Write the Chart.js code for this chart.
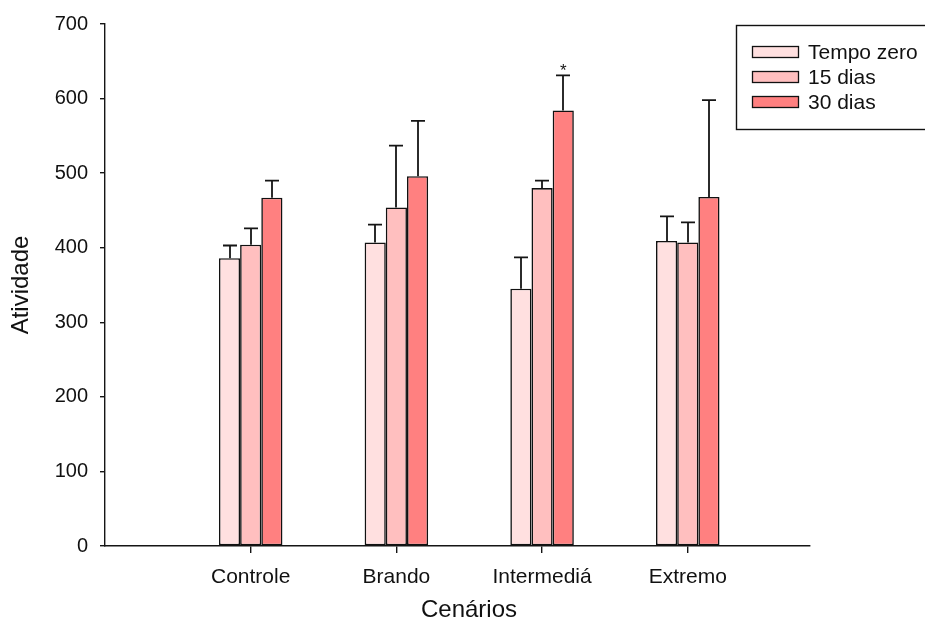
<!DOCTYPE html>
<html>
<head>
<meta charset="utf-8">
<script src="https://cdn.jsdelivr.net/npm/chart.js@4/dist/chart.umd.min.js"></script>
<style>
  html, body { margin: 0; padding: 0; background: #ffffff; }
  #wrap { width: 925px; height: 630px; }
</style>
</head>
<body>
<div id="wrap"><canvas id="c" width="925" height="630"></canvas></div>
<script>
// Scenarios on the x axis
const categories = ['Controle', 'Brando', 'Intermediá', 'Extremo'];
// Series names
const seriesNames = ['Tempo zero', '15 dias', '30 dias'];
// Mean activity per scenario
const tempoZero = [386, 407, 345, 409];
const dias15 = [404, 454, 480, 407];
const dias30 = [467, 496, 584, 468];
// Upper error (SD) per scenario
const errTempoZero = [17, 24, 42, 33];
const errDias15 = [22, 83, 10, 27];
const errDias30 = [23, 74, 47, 130];
// Significance markers: [scenario index, series index, text]
const marks = [[2, 2, '*']];
// Y tick values
const yTicks = [0, 100, 200, 300, 400, 500, 600, 700];
// Axis titles
const xTitle = 'Cenários';
const yTitle = 'Atividade';

const FONT = '"Liberation Sans", Arial, sans-serif';
const colors = ['#FFE0E0', '#FFBFBF', '#FF8080'];
const means = [tempoZero, dias15, dias30];
const errs = [errTempoZero, errDias15, errDias30];

const datasets = seriesNames.map((name, s) => ({
  label: name,
  data: means[s].map((v, i) => ({ x: i + 1, y: v })),
  backgroundColor: colors[s],
  borderColor: '#111111',
  borderWidth: 1.6,
  borderSkipped: false,
  categoryPercentage: 0.436,
  barPercentage: 1.0
}));

// Upper error bars with caps, plus significance text
const errorBars = {
  id: 'errorBars',
  afterDatasetsDraw(chart) {
    const ctx = chart.ctx;
    const yScale = chart.scales.y;
    ctx.save();
    ctx.strokeStyle = '#151515';
    ctx.lineWidth = 1.8;
    chart.data.datasets.forEach((ds, s) => {
      const meta = chart.getDatasetMeta(s);
      meta.data.forEach((bar, i) => {
        const top = yScale.getPixelForValue(means[s][i] + errs[s][i]);
        const x = Math.round(bar.x);
        ctx.beginPath();
        ctx.moveTo(x, bar.y);
        ctx.lineTo(x, top);
        ctx.moveTo(x - 7, top);
        ctx.lineTo(x + 7, top);
        ctx.stroke();
      });
    });
    ctx.fillStyle = '#151515';
    ctx.font = '17px ' + FONT;
    ctx.textAlign = 'center';
    ctx.textBaseline = 'alphabetic';
    marks.forEach(([i, s, t]) => {
      const bar = chart.getDatasetMeta(s).data[i];
      const top = yScale.getPixelForValue(means[s][i] + errs[s][i]);
      ctx.fillText(t, bar.x, top + 1);
    });
    ctx.restore();
  }
};

// Boxed legend in the upper right corner, and the x-axis title
const boxLegend = {
  id: 'boxLegend',
  afterDraw(chart) {
    const ctx = chart.ctx;
    ctx.save();
    ctx.strokeStyle = '#111111';
    ctx.lineWidth = 1.4;
    ctx.strokeRect(736.5, 25.5, 190, 104);
    ctx.font = '21px ' + FONT;
    ctx.textBaseline = 'middle';
    ctx.textAlign = 'left';
    chart.data.datasets.forEach((ds, s) => {
      const cy = 52 + s * 25;
      ctx.fillStyle = ds.backgroundColor;
      ctx.fillRect(752.5, cy - 5.5, 46, 11);
      ctx.strokeStyle = '#111111';
      ctx.lineWidth = 1.3;
      ctx.strokeRect(752.5, cy - 5.5, 46, 11);
      ctx.fillStyle = '#111111';
      ctx.fillText(ds.label, 808, cy + 1);
    });
    ctx.font = '24px ' + FONT;
    ctx.textAlign = 'center';
    ctx.fillText(xTitle, 469, 610);
    ctx.restore();
  }
};

new Chart(document.getElementById('c'), {
  type: 'bar',
  data: { datasets },
  options: {
    responsive: false,
    animation: false,
    events: [],
    layout: { padding: { top: 24, right: 115, left: 0, bottom: 0 } },
    plugins: { legend: { display: false }, tooltip: { enabled: false } },
    scales: {
      x: {
        type: 'linear',
        min: 0,
        max: 4.839,
        offset: false,
        afterBuildTicks(axis) {
          axis.ticks = categories.map((c, i) => ({ value: i + 1 }));
        },
        afterFit(axis) { axis.height = 84; },
        ticks: {
          autoSkip: false,
          maxRotation: 0,
          color: '#111111',
          font: { family: FONT, size: 21 },
          padding: 12,
          callback: (v) => categories[v - 1]
        },
        grid: { display: true, drawOnChartArea: false, offset: false, tickLength: 7, color: '#151515', lineWidth: 1.4 },
        border: { display: true, color: '#151515', width: 1.4 },
        title: { display: false }
      },
      y: {
        min: 0,
        max: 700,
        afterBuildTicks(axis) {
          axis.ticks = yTicks.map(v => ({ value: v }));
        },
        afterFit(axis) { axis.width = 105; },
        ticks: {
          color: '#111111',
          font: { family: FONT, size: 20 },
          padding: 12
        },
        grid: { display: true, drawOnChartArea: false, tickLength: 5, color: '#151515', lineWidth: 1.4 },
        border: { display: true, color: '#151515', width: 1.4 },
        title: {
          display: true,
          text: yTitle,
          color: '#111111',
          font: { family: FONT, size: 24 },
          padding: { top: 7, bottom: 0 }
        }
      }
    }
  },
  plugins: [errorBars, boxLegend]
});
</script>
</body>
</html>
